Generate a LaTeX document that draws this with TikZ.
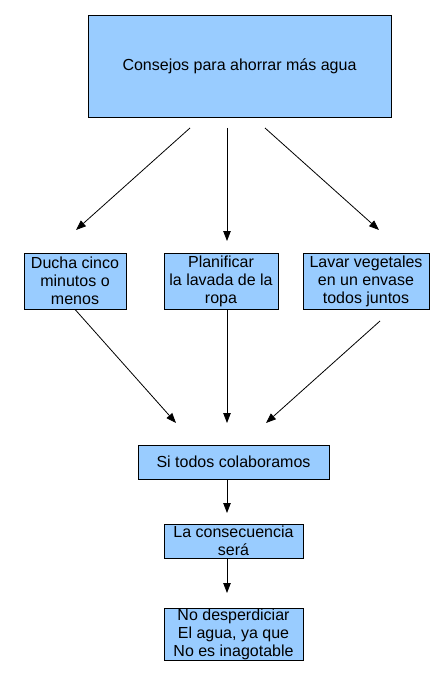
\documentclass[tikz,border=0pt]{standalone}
\usepackage{fontspec}
\setmainfont{Liberation Sans}
\usetikzlibrary{arrows.meta}
\definecolor{boxblue}{HTML}{99CCFF}
\begin{document}
\begin{tikzpicture}[x=1pt,y=-1pt,
  box/.style={draw=black,fill=boxblue,line width=0.8pt,inner sep=0pt,align=center,
    font=\fontsize{16}{18}\selectfont},
  arr/.style={line width=0.8pt,-{Triangle[length=10pt,width=7.5pt]}}]
\useasboundingbox (0,0) rectangle (446,679);
\node[box,minimum width=303pt,minimum height=102pt] (top) at (239.5,66) {Consejos para ahorrar más agua};
\node[box,minimum width=102pt,minimum height=56pt] (b1) at (75,281) {Ducha cinco\\minutos o\\menos};
\node[box,minimum width=114pt,minimum height=56pt] (b2) at (221,281) {Planificar\\la lavada de la\\ropa};
\node[box,minimum width=126pt,minimum height=56pt] (b3) at (366,281) {Lavar vegetales\\en un envase\\todos juntos};
\node[box,minimum width=191pt,minimum height=34pt] (si) at (233.5,462) {Si todos colaboramos};
\node[box,minimum width=139pt,minimum height=34pt] (la) at (233.5,541) {La consecuencia\\será};
\node[box,minimum width=139pt,minimum height=52pt] (no) at (233.5,634) {No desperdiciar\\El agua, ya que\\No es inagotable};
% free ends
\coordinate (midx) at (227,0);
\coordinate (t1) at (190,128);
\coordinate (t2) at (227,128);
\coordinate (t3) at (265,128);
\coordinate (e1) at (76,230);
\coordinate (e2) at (227,241);
\coordinate (e3) at (379,230);
\coordinate (r3) at (380,321);
\coordinate (f1) at (176,423);
\coordinate (f2) at (227,423);
\coordinate (f3) at (266,423);
\coordinate (g1) at (227,513);
\coordinate (g2) at (227,593);
\draw[arr] (t1) -- (e1);
\draw[arr] (t2) -- (e2);
\draw[arr] (t3) -- (e3);
\draw[arr] (b1.south) -- (f1);
\draw[arr] (b2.south -| midx) -- (f2);
\draw[arr] (r3) -- (f3);
\draw[arr] (si.south -| midx) -- (g1);
\draw[arr] (la.south -| midx) -- (g2);
\end{tikzpicture}
\end{document}
